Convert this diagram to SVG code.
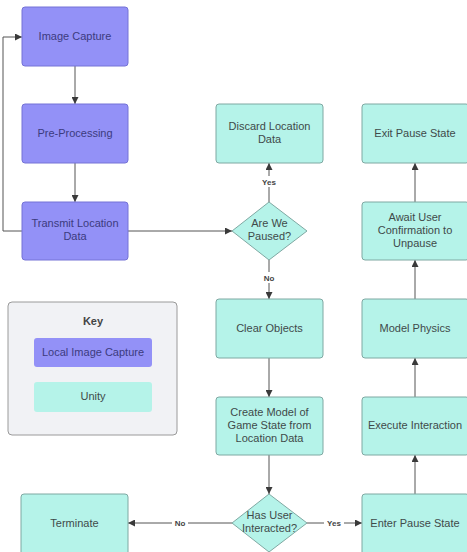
<svg xmlns="http://www.w3.org/2000/svg" width="467" height="552" viewBox="0 0 467 552">
<defs>
<marker id="ah" viewBox="0 0 10 10" refX="10" refY="5" markerWidth="7" markerHeight="7" orient="auto-start-reverse" markerUnits="userSpaceOnUse">
<path d="M0,0 L10,5 L0,10 z" fill="#3a3a3a"/>
</marker>
<style>
.p{fill:#9391f7;stroke:#7472d6;stroke-width:1}
.t{fill:#b5f3e9;stroke:#7fa8a2;stroke-width:1}
.tx{font-family:"Liberation Sans",Arial,sans-serif;font-size:11px;text-anchor:middle}
.pt{fill:#3c3b7e}
.tt{fill:#3f4a4a}
.c{fill:none;stroke:#555;stroke-width:1}
.lb{font-family:"Liberation Sans",Arial,sans-serif;font-size:8px;font-weight:bold;fill:#444;text-anchor:middle}
.lbg{fill:#fff}
</style>
</defs>
<rect width="467" height="552" fill="#ffffff"/>
<g id="connectors">
<line class="c" x1="75" y1="66" x2="75" y2="104" marker-end="url(#ah)"/>
<line class="c" x1="75" y1="163" x2="75" y2="202" marker-end="url(#ah)"/>
<polyline class="c" points="22,231 3,231 3,37 22,37" marker-end="url(#ah)"/>
<line class="c" x1="128" y1="231" x2="232" y2="231" marker-end="url(#ah)"/>
<line class="c" x1="269" y1="202" x2="269" y2="163" marker-end="url(#ah)"/>
<line class="c" x1="269" y1="260" x2="269" y2="299" marker-end="url(#ah)"/>
<line class="c" x1="269" y1="358" x2="269" y2="397" marker-end="url(#ah)"/>
<line class="c" x1="269" y1="455" x2="269" y2="494" marker-end="url(#ah)"/>
<line class="c" x1="232" y1="523" x2="128" y2="523" marker-end="url(#ah)"/>
<line class="c" x1="307" y1="523" x2="362" y2="523" marker-end="url(#ah)"/>
<line class="c" x1="415" y1="494" x2="415" y2="455" marker-end="url(#ah)"/>
<line class="c" x1="415" y1="397" x2="415" y2="358" marker-end="url(#ah)"/>
<line class="c" x1="415" y1="299" x2="415" y2="260" marker-end="url(#ah)"/>
<line class="c" x1="415" y1="202" x2="415" y2="163" marker-end="url(#ah)"/>
<rect class="lbg" x="259" y="176" width="20" height="11"/>
<text class="lb" x="269" y="185">Yes</text>
<rect class="lbg" x="261" y="272" width="16" height="11"/>
<text class="lb" x="269" y="281">No</text>
<rect class="lbg" x="172" y="518" width="16" height="10"/>
<text class="lb" x="180" y="526">No</text>
<rect class="lbg" x="324" y="518" width="20" height="10"/>
<text class="lb" x="334" y="526">Yes</text>
</g>
<g id="image-capture"><rect class="p" x="22" y="7" width="106" height="59" rx="3"/><text class="tx pt" x="75" y="40">Image Capture</text></g>
<g id="pre-processing"><rect class="p" x="22" y="104" width="106" height="59" rx="3"/><text class="tx pt" x="75" y="137">Pre-Processing</text></g>
<g id="transmit"><rect class="p" x="22" y="202" width="106" height="58" rx="3"/><text class="tx pt" x="75" y="227">Transmit Location</text><text class="tx pt" x="75" y="240">Data</text></g>
<g id="discard"><rect class="t" x="216" y="104" width="107" height="59" rx="3"/><text class="tx tt" x="269.5" y="130">Discard Location</text><text class="tx tt" x="269.5" y="143">Data</text></g>
<g id="paused"><polygon class="t" points="269,202 307,231 269,260 232,231"/><text class="tx tt" x="269.5" y="227">Are We</text><text class="tx tt" x="269.5" y="240">Paused?</text></g>
<g id="clear"><rect class="t" x="216" y="299" width="107" height="59" rx="3"/><text class="tx tt" x="269.5" y="332">Clear Objects</text></g>
<g id="create"><rect class="t" x="216" y="397" width="107" height="58" rx="3"/><text class="tx tt" x="269.5" y="416">Create Model of</text><text class="tx tt" x="269.5" y="429">Game State from</text><text class="tx tt" x="269.5" y="442">Location Data</text></g>
<g id="interacted"><polygon class="t" points="269,494 307,523 269,552 232,523"/><text class="tx tt" x="269.5" y="519">Has User</text><text class="tx tt" x="269.5" y="532">Interacted?</text></g>
<g id="terminate"><rect class="t" x="21" y="494" width="107" height="62" rx="3"/><text class="tx tt" x="74.5" y="527">Terminate</text></g>
<g id="enter-pause"><rect class="t" x="362" y="494" width="107" height="62" rx="3"/><text class="tx tt" x="415" y="527">Enter Pause State</text></g>
<g id="execute"><rect class="t" x="362" y="397" width="107" height="58" rx="3"/><text class="tx tt" x="415" y="429">Execute Interaction</text></g>
<g id="physics"><rect class="t" x="362" y="299" width="107" height="59" rx="3"/><text class="tx tt" x="415" y="332">Model Physics</text></g>
<g id="await"><rect class="t" x="362" y="202" width="107" height="58" rx="3"/><text class="tx tt" x="415" y="221">Await User</text><text class="tx tt" x="415" y="234">Confirmation to</text><text class="tx tt" x="415" y="247">Unpause</text></g>
<g id="exit"><rect class="t" x="362" y="104" width="107" height="59" rx="3"/><text class="tx tt" x="415" y="137">Exit Pause State</text></g>
<g id="key">
<rect x="8" y="302" width="169" height="133" rx="4" fill="#f1f2f5" stroke="#9a9a9a" stroke-width="1"/>
<text class="tx" x="93" y="325" font-weight="bold" fill="#444">Key</text>
<rect x="34" y="338" width="118" height="29" rx="3" fill="#9391f7"/>
<text class="tx pt" x="93" y="356">Local Image Capture</text>
<rect x="34" y="382" width="118" height="30" rx="3" fill="#b5f3e9"/>
<text class="tx tt" x="93" y="400">Unity</text>
</g>
</svg>
